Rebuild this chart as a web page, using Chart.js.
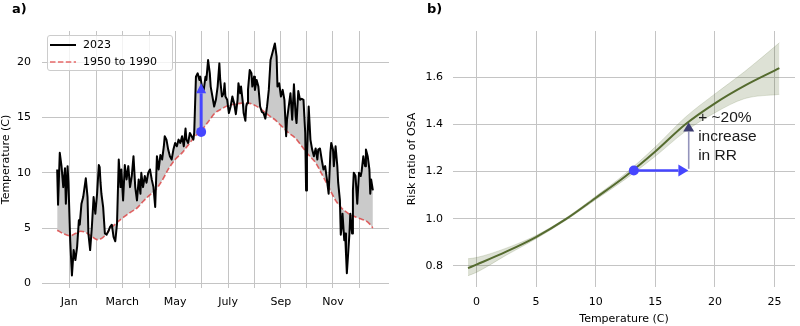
<!DOCTYPE html>
<html><head><meta charset="utf-8">
<script src="https://cdn.jsdelivr.net/npm/chart.js@4"></script>
<style>
html,body{margin:0;padding:0;background:#fff;}
body{width:800px;height:326px;overflow:hidden;position:relative;font-family:"DejaVu Sans";}
#ca{position:absolute;left:0;top:0;}
#cb{position:absolute;left:400px;top:0;}
.lab{position:absolute;font:bold 13px "DejaVu Sans";line-height:15px;color:#000;}
#legend{position:absolute;left:47px;top:35px;width:124px;height:34px;border:1px solid #cccccc;border-radius:3px;background:rgba(255,255,255,0.8);font:11px "DejaVu Sans";color:#000;}
#legend .t{position:absolute;left:35px;line-height:13px;white-space:nowrap;}
#legend svg{position:absolute;left:2px;}
</style>
</head><body>
<canvas id="ca" width="400" height="326"></canvas>
<canvas id="cb" width="400" height="326"></canvas>
<div class="lab" style="left:12px;top:1px;">a)</div>
<div class="lab" style="left:427px;top:1px;">b)</div>
<div id="legend">
  <svg width="28" height="4" style="top:7px"><line x1="0" y1="2" x2="26" y2="2" stroke="#000" stroke-width="2"/></svg>
  <div class="t" style="top:2px">2023</div>
  <svg width="28" height="4" style="top:24px"><line x1="0" y1="2" x2="26" y2="2" stroke="rgba(220,40,40,0.7)" stroke-width="1.6" stroke-dasharray="5.5,2.4"/></svg>
  <div class="t" style="top:19px">1950 to 1990</div>
</div>
<script>
// ---------- Panel a data ----------
const days2023 = [0,1,3,5,7,9,10,12,13,15,17,19,21,23,25,26,28,30,33,35,36,38,40,42,44,46,48,49,50,51,53,55,57,59,61,63,65,67,69,71,73,74,76,78,80,82,84,86,88,90,92,94,96,97,99,101,103,105,107,109,111,113,
115,117,119,121,123,124,126,128,130,132,134,136,138,140,142,144,146,148,149,151,153,155,157,158,160,162,164,165,167,169,171,172,174,176,177,179,181,183,185,187,188,190,192,193,194,196,198,200,202,204,206,208,209,211,212,214,215,217,218,219,220,222,224,225,227,228,230,232,234,236,238,
240,242,244,246,248,250,251,253,254,256,258,260,262,264,265,267,269,271,273,275,276,278,280,282,284,286,287,288,290,292,294,296,298,300,301,303,305,307,309,311,313,315,316,318,319,321,323,324,326,327,328,329,331,332,333,334,336,337,338,340,341,342,344,346,348,350,351,353,355,356,358,360,361,362,364];
const temp2023 = [10.3,7.1,11.8,10.6,8.7,10.4,7.2,10.6,9.1,3.9,0.7,3.0,2.1,3.3,5.7,5.3,7.2,7.8,9.5,7.8,4.5,3.0,5.1,7.8,6.3,8.1,10.7,10.5,9.1,8.1,6.9,4.5,4.4,4.7,5.1,5.3,4.2,3.8,5.4,11.2,8.7,10.3,7.5,10.7,9.4,10.6,8.7,9.7,11.5,8.7,7.5,9.4,8.1,10.0,8.7,9.7,9.1,10.0,10.3,9.4,8.7,6.9,
11.5,10.3,11.6,11.2,12.4,13.3,13.0,12.1,11.5,11.2,12.1,12.7,12.4,13.0,12.7,13.3,12.4,14.0,13.0,12.7,13.6,13.3,13.0,13.6,18.7,19.0,18.4,18.7,17.8,17.5,18.7,18.4,20.2,19.0,17.8,16.9,16.0,16.6,17.8,19.9,18.4,16.9,17.2,18.1,16.9,16.6,15.4,16.0,16.9,16.3,15.3,16.6,18.1,17.2,17.8,16.4,15.4,14.7,16.0,16.3,17.5,19.3,19.0,17.8,18.7,17.5,18.4,17.8,16.0,15.5,15.4,
14.9,16.0,17.5,20.2,20.8,21.4,21.7,20.5,17.8,18.1,16.9,17.5,16.6,13.3,14.8,16.0,17.2,14.8,18.0,15.1,14.5,17.4,16.6,16.7,16.6,13.6,8.4,11.5,16.0,13.0,12.1,11.5,12.2,11.2,12.1,12.2,11.2,10.3,10.6,9.4,8.1,11.8,12.7,12.1,10.6,12.4,10.6,9.1,7.5,4.4,5.1,6.3,3.9,4.5,2.7,0.9,3.3,4.5,6.3,4.5,8.4,10.0,9.7,7.2,10.0,9.7,10.1,11.5,10.6,12.1,11.5,10.3,8.1,9.4,8.4];
const daysClim = [0,7,15,21,27,33,39,46,50,55,61,69,77,84,92,99,107,114,121,128,136,144,151,159,167,174,182,190,197,205,213,220,228,236,244,251,259,267,275,282,290,298,305,313,321,328,336,344,351,357,361,364];
const tempClim = [4.8,4.5,4.3,4.5,4.7,4.6,4.3,3.95,4.0,4.3,4.9,5.5,6.0,6.4,6.8,7.4,8.0,8.5,9.3,10.3,11.2,11.8,12.5,13.3,13.9,14.6,15.4,15.8,16.1,16.2,16.3,16.3,16.1,15.7,15.2,14.8,14.2,13.6,13.1,12.4,11.6,10.9,9.9,8.7,7.5,6.8,6.3,6.0,5.8,5.6,5.3,5.0];
const monthTickDays = [14,45,75,106,136,166,197,227,258,288,318,349];
const monthTickLabels = ['Jan','','March','','May','','July','','Sep','','Nov',''];
const tempTicks = [0,5,10,15,20];
const arrowADay = [166,166];
const arrowATemp = [13.7,18.1];

// ---------- Panel b data ----------
const rrTemp = [-0.7,0,2.5,5,7.5,10,12.5,15,17.5,20,22.5,25.4];
const rrMean = [0.79,0.805,0.86,0.922,0.998,1.088,1.18,1.285,1.40,1.49,1.565,1.639];
const rrLow  = [0.758,0.772,0.845,0.915,0.993,1.081,1.168,1.265,1.37,1.45,1.51,1.528];
const rrHigh = [0.83,0.835,0.875,0.929,1.003,1.095,1.192,1.305,1.43,1.53,1.625,1.747];
const rrXTicks = [0,5,10,15,20,25];
const rrYTicks = [0.8,1.0,1.2,1.4,1.6];
const arrowBTemp = [13.2,17.77];
const arrowBRR = [1.205,1.205];
const arrowB2Temp = [17.8,17.8];
const arrowB2RR = [1.212,1.408];
const annotLines = ['+ ~20%','increase','in RR'];
const annotAt = [18.59,1.412];

Chart.defaults.font.family = 'DejaVu Sans';
Chart.defaults.font.size = 11;
Chart.defaults.color = '#000';

function drawArrow(ctx,x1,y1,x2,y2,lineColor,headColor,lw,headLen,headW){
  const ang = Math.atan2(y2-y1,x2-x1);
  const bx = x2-headLen*Math.cos(ang), by = y2-headLen*Math.sin(ang);
  ctx.save();
  ctx.strokeStyle = lineColor; ctx.lineWidth = lw; ctx.lineCap='butt';
  ctx.beginPath(); ctx.moveTo(x1,y1); ctx.lineTo(bx,by); ctx.stroke();
  ctx.fillStyle = headColor;
  ctx.beginPath(); ctx.moveTo(x2,y2);
  ctx.lineTo(bx+headW*Math.sin(ang), by-headW*Math.cos(ang));
  ctx.lineTo(bx-headW*Math.sin(ang), by+headW*Math.cos(ang));
  ctx.closePath(); ctx.fill();
  ctx.restore();
}
const annoPlugin = {
  id:'anno',
  afterDatasetsDraw(chart,args,opts){
    const {ctx,scales:{x,y}} = chart;
    (opts.arrows||[]).forEach(a=>{
      drawArrow(ctx,x.getPixelForValue(a.xs[0]),y.getPixelForValue(a.ys[0]),x.getPixelForValue(a.xs[1]),y.getPixelForValue(a.ys[1]),a.color,a.head,a.width,a.headLen,a.headW);
    });
    if(opts.text){
      const t = opts.text;
      ctx.save();
      ctx.font = t.font; ctx.fillStyle = t.color; ctx.textAlign='left'; ctx.textBaseline='alphabetic';
      const px = x.getPixelForValue(t.at[0]), py = y.getPixelForValue(t.at[1]);
      t.lines.forEach((s,i)=>ctx.fillText(s,px,py+i*t.lh));
      ctx.restore();
    }
  }
};

const gridColor = '#c4c4c4';
function fixTicks(vals){ return function(scale){ scale.ticks = vals.map(v=>({value:v})); }; }

new Chart(document.getElementById('ca'),{
  type:'line',
  data:{datasets:[
    {label:'2023',data:days2023.map((d,i)=>({x:d,y:temp2023[i]})),borderColor:'#000',borderWidth:2,pointRadius:0,tension:0,borderJoinStyle:'round',
     fill:{target:1},backgroundColor:'#cacaca'},
    {label:'1950 to 1990',data:daysClim.map((d,i)=>({x:d,y:tempClim[i]})),borderColor:'rgba(220,40,40,0.7)',borderWidth:1.6,borderDash:[5.5,2.4],pointRadius:0,cubicInterpolationMode:'monotone',fill:false},
    {label:'dot',data:[{x:arrowADay[0],y:arrowATemp[0]}],showLine:false,pointRadius:5,pointBorderWidth:0,pointBackgroundColor:'#4646ff',order:-1}
  ]},
  options:{
    responsive:false,animation:false,devicePixelRatio:1,
    layout:{padding:{top:31,right:11,bottom:0,left:0}},
    plugins:{legend:{display:false},tooltip:{enabled:false},filler:{drawTime:'beforeDatasetsDraw'},
      anno:{arrows:[{xs:arrowADay,ys:arrowATemp,color:'#4646ff',head:'#4646ff',width:3,headLen:10,headW:5}]}},
    scales:{
      x:{type:'linear',min:-17.5,max:382.6,afterBuildTicks:fixTicks(monthTickDays),
         afterFit:s=>{s.height=38;},
         ticks:{padding:8,maxRotation:0,autoSkip:false,callback:(v)=>{const i=monthTickDays.indexOf(v);return i>=0?monthTickLabels[i]:'';}},
         grid:{color:gridColor,lineWidth:1,drawTicks:false},border:{display:false}},
      y:{type:'linear',min:-0.43,max:22.83,afterBuildTicks:fixTicks(tempTicks),
         afterFit:s=>{s.width=42;},
         ticks:{padding:11,callback:v=>String(v)},
         title:{display:true,text:'Temperature (C)',padding:{top:0,bottom:0},font:{size:11}},
         grid:{color:gridColor,lineWidth:1,drawTicks:false},border:{display:false}}
    }
  },
  plugins:[annoPlugin]
});

new Chart(document.getElementById('cb'),{
  type:'line',
  data:{datasets:[
    {label:'mean',data:rrTemp.map((t,i)=>({x:t,y:rrMean[i]})),borderColor:'#556b2f',borderWidth:2,pointRadius:0,cubicInterpolationMode:'monotone',fill:false},
    {label:'upper',data:rrTemp.map((t,i)=>({x:t,y:rrHigh[i]})),borderColor:'rgba(85,107,47,0.18)',borderWidth:1,pointRadius:0,cubicInterpolationMode:'monotone',fill:{target:2},backgroundColor:'rgba(85,107,47,0.2)'},
    {label:'lower',data:rrTemp.map((t,i)=>({x:t,y:rrLow[i]})),borderColor:'rgba(85,107,47,0.18)',borderWidth:1,pointRadius:0,cubicInterpolationMode:'monotone',fill:false},
    {label:'dot',data:[{x:arrowBTemp[0],y:arrowBRR[0]}],showLine:false,pointRadius:5,pointBorderWidth:0,pointBackgroundColor:'#4646ff',order:-1}
  ]},
  options:{
    responsive:false,animation:false,devicePixelRatio:1,
    layout:{padding:{top:31,right:0,bottom:0,left:0}},
    plugins:{legend:{display:false},tooltip:{enabled:false},filler:{drawTime:'beforeDatasetsDraw'},
      anno:{arrows:[
        {xs:arrowBTemp,ys:arrowBRR,color:'#4646ff',head:'#4646ff',width:2.5,headLen:10,headW:6},
        {xs:arrowB2Temp,ys:arrowB2RR,color:'#9494bc',head:'#3c3c70',width:1.6,headLen:9,headW:5.5}
      ],
      text:{lines:annotLines,at:annotAt,font:'15.5px "Liberation Sans"',color:'#1a1a1a',lh:19.2}}},
    scales:{
      x:{type:'linear',min:-1.96,max:26.71,afterBuildTicks:fixTicks(rrXTicks),
         afterFit:s=>{s.height=39;},
         ticks:{padding:9,maxRotation:0,autoSkip:false,callback:v=>String(v)},
         title:{display:true,text:'Temperature (C)',padding:{top:0,bottom:0},font:{size:11}},
         grid:{color:gridColor,lineWidth:1,drawTicks:false},border:{display:false}},
      y:{type:'linear',min:0.710,max:1.797,afterBuildTicks:fixTicks(rrYTicks),
         afterFit:s=>{s.width=53;},
         ticks:{padding:10,callback:v=>v.toFixed(1)},
         title:{display:true,text:'Risk ratio of OSA',padding:{top:6,bottom:0},font:{size:11}},
         grid:{color:gridColor,lineWidth:1,drawTicks:false},border:{display:false}}
    }
  },
  plugins:[annoPlugin]
});
</script>
</body></html>
